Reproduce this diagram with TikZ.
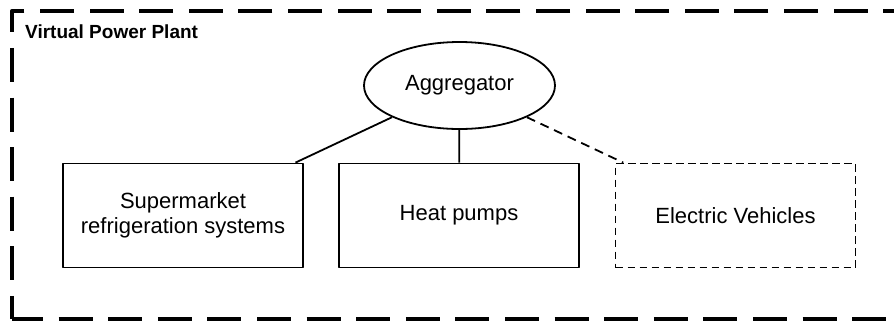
\documentclass[tikz,border=0pt]{standalone}
\usepackage{fontspec}
\setmainfont{Liberation Sans}
\usetikzlibrary{shapes.geometric}

\begin{document}
\begin{tikzpicture}[
    x=1pt, y=-1pt,
    line join=round,
    txt/.style={font=\fontsize{22}{25.3}\selectfont},
    title/.style={font=\fontsize{19}{22}\selectfont\bfseries},
    frame/.style={line width=3.6pt, dash pattern=on 34pt off 15.6pt, dash phase=3pt},
    unit/.style={txt, draw, line width=1.8pt, minimum width=240pt,
        minimum height=104pt, inner sep=0pt, align=center},
    plannedunit/.style={unit, dash pattern=on 7.5pt off 4.5pt},
    hub/.style={txt, ellipse, draw, line width=1.8pt, minimum width=191pt,
        minimum height=87pt, inner sep=0pt},
    link/.style={line width=1.8pt},
    plannedlink/.style={link, dash pattern=on 9pt off 6pt},
]

% ── Canvas ──────────────────────────────────────────────────────────────────
\useasboundingbox (0,0) rectangle (894,325);
\clip (0,0) rectangle (894,325);

% ── Frame of the plant (right edge runs off the page) ───────────────────────
\def\fl{12}      % left edge
\def\fr{904.15}  % right edge
\def\ft{10.7}    % top edge
\def\fb{319}     % bottom edge
\coordinate (vppSW) at (\fl,\fb);
\coordinate (vppSE) at (\fr,\fb);
\coordinate (vppNE) at (\fr,\ft);
\coordinate (vppNW) at (\fl,\ft);
\draw[frame] (vppSW) -- (vppSE) -- (vppNE) -- (vppNW) -- cycle;
\node[title, anchor=base west, inner sep=0pt] (vpplabel) at (25,38.3)
    {Virtual Power Plant};

% ── Aggregator ──────────────────────────────────────────────────────────────
\node[hub] (agg) at (459.5,85.5) {Aggregator};

% ── Flexible units ──────────────────────────────────────────────────────────
\node[unit] (fridge) at (183,215.5) {Supermarket\\refrigeration systems};
\node[unit] (hp) at (459,215.5) {Heat pumps};
\node[plannedunit] (ev) at (735.5,215.5) {Electric Vehicles};

% ── Links ───────────────────────────────────────────────────────────────────
\draw[link] (agg) -- (fridge);
\draw[link] (agg) -- (hp);
\draw[plannedlink] (agg) -- (ev);

\end{tikzpicture}
\end{document}
